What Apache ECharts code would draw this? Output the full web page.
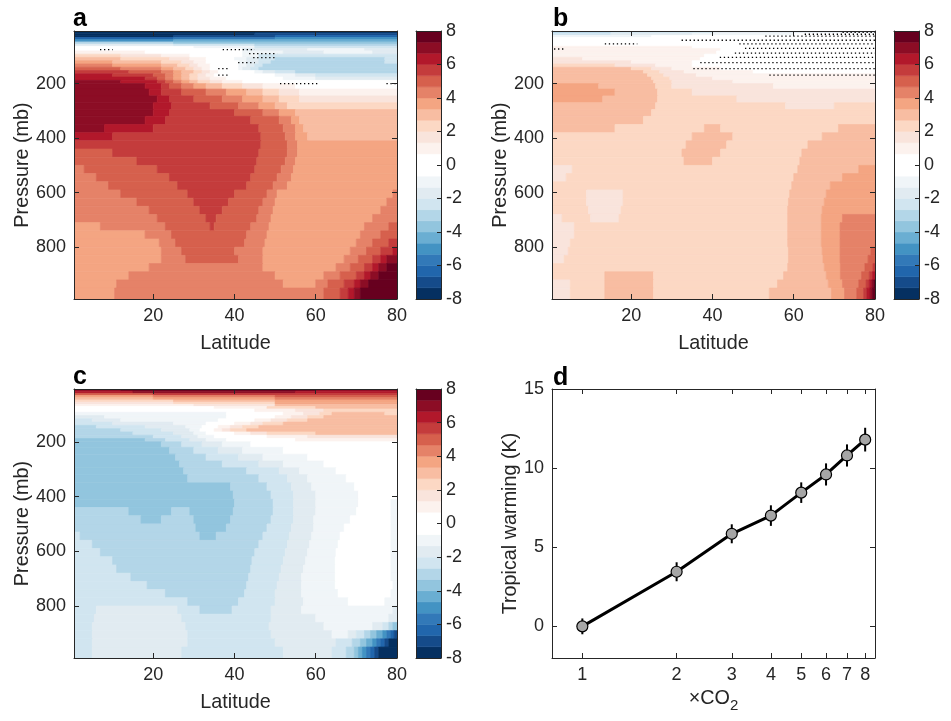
<!DOCTYPE html>
<html>
<head>
<meta charset="utf-8">
<script src="https://cdn.jsdelivr.net/npm/echarts@6/dist/echarts.min.js"></script>
<style>
html, body { margin: 0; padding: 0; background: #fff; }
#chart { width: 951px; height: 721px; }
</style>
</head>
<body>
<div id="chart"></div>
<script>
var FONT = '"Liberation Sans", Arial, Helvetica, sans-serif';
var INK = '#262626';

// pressure rows (mb) shared by panels a, b, c
var pEdges = [7, 15, 23, 31, 39, 47, 55, 63, 71, 80, 92, 104, 116, 128, 140, 152, 164, 176, 188, 200,
  220, 245, 270, 295, 320, 350, 380, 410, 440, 470, 500, 530, 560, 590, 620, 650, 680, 710, 740, 770,
  800, 830, 860, 890, 920, 950, 990];

// one line per pressure row: value, latitude where that value stops, value, latitude, ...
var fieldA = [
  [-7.7, 80],
  [-7.7, 45, -7, 80],
  [-7.7, 25, -7, 50, -6.3, 80],
  [-6.3, 25, -5.7, 50, -5, 80],
  [-5, 25, -4.3, 80],
  [-3, 25, -3.7, 80],
  [-1.7, 25, -2.3, 45, -3, 80],
  [-0.3, 30, -1, 45, -2.3, 80],
  [0.3, 32, -0.3, 42, -1.7, 58, -1, 72, -1.7, 80],
  [1, 18, 0.3, 34, -0.3, 42, -1, 52, -1.7, 62, -1, 74, -1.7, 80],
  [2.3, 12, 1.7, 22, 1, 29, 0.3, 37, -0.3, 42, -1, 46, -2.3, 80],
  [3, 12, 2.3, 24, 1.7, 29, 1, 33, 0.3, 37, -0.3, 40, -1, 43, -1.7, 46, -2.3, 50, -3, 77, -2.3, 80],
  [3.7, 10, 3, 22, 2.3, 27, 1.7, 30, 1, 33, 0.3, 38, -0.3, 41, -1, 43, -1.7, 46, -2.3, 49, -3, 77, -2.3, 80],
  [4.3, 10, 3.7, 22, 3, 26, 2.3, 29, 1.7, 31, 1, 34, 0.3, 38, -0.3, 41, -1, 43, -1.7, 45, -2.3, 47, -3, 80],
  [5, 12, 4.3, 22, 3.7, 25, 3, 28, 2.3, 30, 1.7, 32, 1, 34, 0.3, 38, -0.3, 41, -1, 42, -1.7, 44, -2.3, 46, -3, 80],
  [5.7, 14, 5, 22, 4.3, 25, 3.7, 27, 3, 30, 2.3, 32, 1.7, 34, 1, 36, 0.3, 42, -0.3, 45, -1, 47, -1.7, 50, -2.3, 55, -3, 80],
  [6.3, 10, 5.7, 20, 5, 23, 4.3, 25, 3.7, 27, 3, 29, 2.3, 31, 1.7, 33, 1, 35, 0.3, 45, -0.3, 50, -1, 55, -1.7, 60, -2.3, 80],
  [6.3, 18, 5.7, 21, 5, 23, 4.3, 25, 3.7, 27, 3, 29, 2.3, 31, 1.7, 34, 1, 38, 0.3, 45, -0.3, 52, -1, 60, -1.7, 80],
  [7, 12, 6.3, 21, 5.7, 23, 5, 25, 4.3, 27, 3.7, 29, 3, 31, 2.3, 34, 1.7, 37, 1, 42, 0.3, 55, -0.3, 80],
  [7, 18, 6.3, 22, 5.7, 24, 5, 27, 4.3, 30, 3.7, 33, 3, 37, 2.3, 42, 1.7, 47, 1, 55, 0.3, 80],
  [7, 19, 6.3, 22, 5.7, 27, 5, 33, 4.3, 38, 3.7, 43, 3, 47, 2.3, 51, 1.7, 56, 1, 80],
  [7, 21, 6.3, 24, 5.7, 30, 5, 37, 4.3, 42, 3.7, 47, 3, 51, 2.3, 56, 1.7, 80],
  [7, 20, 6.3, 24.5, 5.7, 34, 5, 41, 4.3, 46, 3.7, 50, 3, 53, 2.3, 80],
  [7, 20, 6.3, 24, 5.7, 40, 5, 47, 4.3, 51, 3.7, 55, 3, 80],
  [7, 18, 6.3, 23, 5.7, 44, 5, 51, 4.3, 54, 3.7, 56, 3, 80],
  [7, 8, 6.3, 20, 5.7, 46, 5, 52, 4.3, 55, 3.7, 57, 3, 80],
  [6.3, 10, 5.7, 46.5, 5, 52.5, 4.3, 55, 3.7, 58, 3, 80],
  [5.7, 46.5, 5, 53, 4.3, 55.5, 3.7, 80],
  [5, 10, 5.7, 46, 5, 53, 4.3, 55.5, 3.7, 80],
  [5, 16, 5.7, 45.5, 5, 52.5, 4.3, 55, 3.7, 80],
  [4.3, 3, 5, 21, 5.7, 45, 5, 51.5, 4.3, 54.5, 3.7, 80],
  [4.3, 6, 5, 24, 5.7, 44, 5, 50.5, 4.3, 54, 3.7, 80],
  [4.3, 9, 5, 26, 5.7, 43, 5, 49.5, 4.3, 53, 3.7, 80],
  [4.3, 12, 5, 28.5, 5.7, 40, 5, 48, 4.3, 50.5, 3.7, 79, 4.3, 80],
  [4.3, 16, 5, 30, 5.7, 38.5, 5, 47, 4.3, 50, 3.7, 77.5, 4.3, 80],
  [4.3, 19, 5, 31.5, 5.7, 37, 5, 46, 4.3, 49.5, 3.7, 76, 4.3, 80],
  [4.3, 21, 5, 33, 5.7, 35.5, 5, 45.5, 4.3, 49, 3.7, 74, 4.3, 80],
  [3.7, 7, 4.3, 23, 5, 34, 5.7, 35, 5, 44, 4.3, 48.5, 3.7, 72, 4.3, 78, 5, 80],
  [3.7, 18, 4.3, 24.5, 5, 43, 4.3, 48, 3.7, 71, 4.3, 76, 5, 80],
  [3.7, 21.5, 4.3, 25.5, 5, 42.5, 4.3, 47.5, 3.7, 70, 4.3, 74, 5, 78, 5.7, 80],
  [3.7, 22, 4.3, 27, 5, 40, 4.3, 47, 3.7, 68.5, 4.3, 72.5, 5, 76, 5.7, 79, 6.3, 80],
  [3.7, 22, 4.3, 28, 5, 41, 4.3, 47, 3.7, 67, 4.3, 70.5, 5, 74, 5.7, 76, 6.3, 77.5, 7, 80],
  [3.7, 19, 4.3, 47, 3.7, 65, 4.3, 68.5, 5, 72, 5.7, 74, 6.3, 75.5, 7, 77.5, 7.7, 80],
  [3.7, 14, 4.3, 50, 3.7, 62, 4.3, 66, 5, 70, 5.7, 72, 6.3, 73.5, 7, 75.5, 7.7, 80],
  [3.7, 11, 4.3, 52, 3.7, 60, 4.3, 63, 5, 67, 5.7, 69.5, 6.3, 71, 7, 73, 7.7, 80],
  [3.7, 10.5, 4.3, 62, 5, 66, 5.7, 68, 6.3, 69.5, 7, 71, 7.7, 80]
];

var fieldB = [
  [-3, 15, -2.3, 40, -1.7, 80],
  [-2.3, 15, -1.7, 35, -1, 60, 0, 80],
  [-1, 25, 0, 80],
  [0, 80],
  [0, 80],
  [0, 80],
  [0, 80],
  [1, 35, 0, 80],
  [1, 42, 0, 80],
  [1, 41, 0, 80],
  [1, 38, 0, 80],
  [1.7, 8, 1, 37, 0, 80],
  [1.7, 20, 1, 35, 0, 80],
  [2.3, 16, 1.7, 26, 1, 35, 0, 80],
  [3, 20, 2.3, 25, 1.7, 30, 1, 42, 0, 80],
  [3, 23, 2.3, 27, 1.7, 33, 1, 50, 0, 80],
  [3, 24, 2.3, 28, 1.7, 36, 1, 80],
  [3, 25, 2.3, 29.5, 1.7, 40, 1, 80],
  [3, 25.5, 2.3, 30, 1.7, 45, 1, 80],
  [3.7, 12, 3, 26, 2.3, 30, 1.7, 55, 1, 80],
  [3.7, 16, 3, 26.5, 2.3, 35, 1.7, 80],
  [3.7, 13, 3, 26.5, 2.3, 46, 1.7, 80],
  [3, 26, 2.3, 58, 1.7, 70, 2.3, 80],
  [3, 25, 2.3, 80],
  [3, 23, 2.3, 80],
  [3, 16, 2.3, 38, 3, 42, 2.3, 71, 3, 80],
  [2.3, 35, 3, 45, 2.3, 67, 3, 80],
  [2.3, 33.5, 3, 43.5, 2.3, 63.5, 3, 80],
  [2.3, 32.5, 3, 42, 2.3, 62, 3, 80],
  [2.3, 33, 3, 40, 2.3, 61.5, 3, 80],
  [1.7, 5.5, 2.3, 61, 3, 76, 3.7, 80],
  [1.7, 4, 2.3, 60, 3, 72, 3.7, 80],
  [2.3, 59.5, 3, 69, 3.7, 80],
  [2.3, 9, 1.7, 18, 2.3, 59, 3, 68, 3.7, 80],
  [2.3, 9, 1.7, 18, 2.3, 58.7, 3, 67.5, 3.7, 80],
  [2.3, 9.5, 1.7, 17.5, 2.3, 58.5, 3, 67, 3.7, 80],
  [1.7, 3, 2.3, 10, 1.7, 17, 2.3, 58.5, 3, 66.8, 3.7, 72, 4.3, 80],
  [1.7, 6, 2.3, 58.5, 3, 66.8, 3.7, 71.4, 4.3, 80],
  [1.7, 6, 2.3, 58.5, 3, 66.8, 3.7, 71.4, 4.3, 80],
  [1.7, 5, 2.3, 58.5, 3, 66.8, 3.7, 71.4, 4.3, 80],
  [1.7, 4.5, 2.3, 58.7, 3, 67, 3.7, 71.4, 4.3, 79, 5, 80],
  [1.7, 3.5, 2.3, 58.7, 3, 67.2, 3.7, 71.4, 4.3, 78.3, 5, 80],
  [2.3, 58.5, 3, 67.5, 3.7, 71.5, 4.3, 77.5, 5, 79.5, 5.7, 80],
  [2.3, 13.5, 3, 25.5, 2.3, 57.5, 3, 68, 3.7, 71.5, 4.3, 76.7, 5, 78.6, 5.7, 79.4, 6.3, 80],
  [1.7, 5, 2.3, 13.5, 3, 25.5, 2.3, 56, 3, 68.5, 3.7, 72, 4.3, 76, 5, 77.8, 5.7, 78.6, 6.3, 79.2, 7, 79.7, 7.7, 80],
  [1.7, 5, 2.3, 13.5, 3, 25.5, 2.3, 54, 3, 69.3, 3.7, 72.5, 4.3, 75.5, 5, 77.2, 5.7, 78, 6.3, 78.8, 7, 79.4, 7.7, 80]
];

var fieldC = [
  [7, 12, 7.7, 60, 7, 80],
  [6.3, 15, 7, 55, 6.3, 80],
  [5, 20, 5.7, 80],
  [3.7, 20, 4.3, 50, 5, 80],
  [3, 20, 3.7, 50, 4.3, 80],
  [2.3, 25, 3, 50, 3.7, 80],
  [1.7, 25, 2.3, 50, 3.7, 80],
  [1, 30, 1.7, 50, 3, 80],
  [0.3, 35, 1, 48, 2.3, 60, 3, 80],
  [0.3, 45, 1, 55, 1.7, 62, 2.3, 80],
  [-1, 38, 0.3, 52, 1, 57, 1.7, 61, 2.3, 64, 3, 77, 2.3, 80],
  [-1.7, 8, -1, 38, 0.3, 50, 1, 54, 1.7, 58, 2.3, 62, 3, 80],
  [-2.3, 5, -1.7, 12, -1, 36, 0.3, 45, 1, 49, 1.7, 53, 2.3, 58, 3, 80],
  [-2.3, 10, -1.7, 25, -1, 33, 0.3, 40, 1, 44, 1.7, 47, 2.3, 52, 3, 80],
  [-3, 6, -2.3, 18, -1.7, 28, -1, 32, 0.3, 36, 1, 39, 1.7, 42, 2.3, 46, 3, 80],
  [-3, 12, -2.3, 22, -1.7, 29, -1, 31.5, 0.3, 35, 1, 37, 1.7, 39, 2.3, 43, 3, 80],
  [-3, 15, -2.3, 25, -1.7, 30, -1, 33, 0.3, 40, 1, 44, 1.7, 48, 2.3, 60, 3, 80],
  [-3, 20, -2.3, 27, -1.7, 31, -1, 35, 0.3, 48, 1, 58, 1.7, 80],
  [-3.7, 18, -3, 23, -2.3, 29, -1.7, 33, -1, 38, 0.3, 55, 1, 80],
  [-3.7, 22, -3, 27, -2.3, 32, -1.7, 37, -1, 44, 0.3, 80],
  [-3.7, 24, -3, 30, -2.3, 36, -1.7, 42, -1, 52, 0.3, 80],
  [-3.7, 25.5, -3, 33, -2.3, 41, -1.7, 47, -1, 58, 0.3, 80],
  [-3.7, 26.5, -3, 37, -2.3, 46, -1.7, 52, -1, 62, 0.3, 80],
  [-3.7, 27.5, -3, 43, -2.3, 51, -1.7, 56, -1, 65, 0.3, 80],
  [-3.7, 28.5, -3, 46, -2.3, 53, -1.7, 58, -1, 67.5, 0.3, 80],
  [-3.7, 39, -3, 48, -2.3, 54, -1.7, 59, -1, 69.5, 0.3, 80],
  [-3.7, 39.7, -3, 49, -2.3, 54.5, -1.7, 60, -1, 70.5, 0.3, 80],
  [-3.7, 40, -3, 49.5, -2.3, 54.5, -1.7, 60, -1, 70.5, 0.3, 78.5, -1, 80],
  [-3, 14, -3.7, 24.5, -3, 29, -3.7, 39.7, -3, 49.5, -2.3, 54.5, -1.7, 60, -1, 70, 0.3, 78.5, -1, 80],
  [-3, 17, -3.7, 22, -3, 30, -3.7, 39, -3, 49, -2.3, 54.5, -1.7, 59.5, -1, 68.5, 0.3, 78.5, -1, 80],
  [-3, 30.5, -3.7, 38, -3, 48, -2.3, 54, -1.7, 59.5, -1, 67, 0.3, 78.5, -1, 80],
  [-2.3, 2, -3, 31.5, -3.7, 35.5, -3, 47, -2.3, 53.5, -1.7, 59, -1, 66, 0.3, 78.5, -1, 80],
  [-2.3, 5, -3, 46, -2.3, 53, -1.7, 58.5, -1, 65.5, 0.3, 78.5, -1, 80],
  [-2.3, 7, -3, 45, -2.3, 52.5, -1.7, 58, -1, 65, 0.3, 78.5, -1, 80],
  [-2.3, 10, -3, 44.3, -2.3, 52, -1.7, 57.5, -1, 64.8, 0.3, 78.5, -1, 80],
  [-2.3, 11, -3, 44, -2.3, 51.5, -1.7, 57, -1, 64.8, 0.3, 78.5, -1, 80],
  [-2.3, 14.5, -3, 43.5, -2.3, 51, -1.7, 56.5, -1, 64.8, 0.3, 78.5, -1, 80],
  [-2.3, 18.5, -3, 43, -2.3, 50.5, -1.7, 56.5, -1, 64.8, 0.3, 79, -1, 80],
  [-2.3, 23, -3, 42.5, -2.3, 50, -1.7, 56.5, -1, 65.5, 0.3, 78.5, -1, 80],
  [-2.3, 28.5, -3, 41, -2.3, 50, -1.7, 57, -1, 68, 0.3, 77, -1, 80],
  [-2.3, 6, -1.7, 26, -2.3, 31.5, -3, 39.4, -2.3, 49, -1.7, 56.5, -1, 79, -1.7, 80],
  [-2.3, 5.5, -1.7, 27, -2.3, 49, -1.7, 60, -1, 78, -1.7, 80],
  [-2.3, 5, -1.7, 28, -2.3, 48.5, -1.7, 62, -1, 74, -1.7, 76.5, -2.3, 78, -3, 79, -3.7, 80],
  [-2.3, 5, -1.7, 28.5, -2.3, 49, -1.7, 64, -1, 68, -1.7, 70, -2.3, 72, -3, 73.5, -3.7, 75, -4.3, 76.5, -5, 77.5, -5.7, 78.5, -6.3, 79.3, -7, 80],
  [-2.3, 5, -1.7, 28.5, -2.3, 50, -1.7, 65, -2.3, 69, -3, 71, -3.7, 72.5, -4.3, 74, -5, 75, -5.7, 76, -6.3, 77, -7, 78, -7.7, 80],
  [-2.3, 5, -1.7, 27, -2.3, 52, -1.7, 64, -2.3, 67.5, -3, 69.5, -3.7, 70.5, -4.3, 71.5, -5, 72.5, -5.7, 73.5, -6.3, 74.5, -7, 75.5, -7.7, 80]
];

// dotted (significance) rows: start latitude, end latitude, pressure
var stippleA = [
  [6.9, 10, 75], [37.1, 45, 75], [43.6, 50.5, 90], [44.6, 50.5, 104.5], [40.9, 45, 123],
  [36, 38.5, 145], [36, 38.5, 169], [51.2, 61, 200], [77.4, 80, 200]
];
var stippleB = [
  [72, 80, 12], [62.7, 80, 19], [53, 80, 26], [32.4, 80, 41], [13.5, 21.5, 54], [46.6, 80, 54],
  [1, 3.7, 73], [48, 80, 71], [45.5, 80, 88], [41.8, 80, 104], [37, 80, 123], [35.3, 80, 145], [54, 80, 169]
];

// 24 colour levels from -8 to 8
var levelColors = ['#053061', '#154b8a', '#2166ac', '#3279b8', '#4393c3', '#6aaed2', '#92c5de', '#b3d6e8',
  '#d1e5f0', '#e1ebf1', '#f0f5f8', '#ffffff', '#ffffff', '#fcf2ee', '#f9e4dc', '#fcd8c4',
  '#f8bda2', '#f4a582', '#e58268', '#d6604d', '#c43c3c', '#b2182b', '#8c0d25', '#67001f'];
var cbRange = [-8, 8];
var cbTicks = [-8, -6, -4, -2, 0, 2, 4, 6, 8];

var latRange = [0.5, 80];
var latTicks = [20, 40, 60, 80];
var pRange = [7, 990];
var pTicks = [200, 400, 600, 800];

// panel d
var co2 = [1, 2, 3, 4, 5, 6, 7, 8];
var warming = [0, 3.45, 5.85, 7.0, 8.45, 9.6, 10.8, 11.8];
var warmingErr = [0.5, 0.6, 0.6, 0.65, 0.65, 0.7, 0.7, 0.75];
var co2Ticks = [1, 2, 3, 4, 5, 6, 7, 8];
var warmTicks = [0, 5, 10, 15];

var chart = echarts.init(document.getElementById('chart'));

function toCells(field) {
  var cells = [];
  field.forEach(function (row, r) {
    var lat0 = latRange[0];
    for (var k = 0; k < row.length; k += 2) {
      cells.push([lat0, row[k + 1], pEdges[r], pEdges[r + 1], row[k]]);
      lat0 = row[k + 1];
    }
  });
  return cells;
}

function levelColor(v) {
  var step = (cbRange[1] - cbRange[0]) / levelColors.length;
  var i = Math.floor((v - cbRange[0]) / step);
  return levelColors[Math.max(0, Math.min(levelColors.length - 1, i))];
}

function renderCell(params, api) {
  var a = api.coord([api.value(0), api.value(2)]);
  var b = api.coord([api.value(1), api.value(3)]);
  var c = levelColor(api.value(4));
  return {
    type: 'rect',
    shape: { x: Math.min(a[0], b[0]), y: Math.min(a[1], b[1]), width: Math.abs(b[0] - a[0]), height: Math.abs(b[1] - a[1]) },
    style: { fill: c, stroke: c, lineWidth: 0.7 }
  };
}

function renderDots(params, api) {
  var a = api.coord([api.value(0), api.value(2)]);
  var b = api.coord([api.value(1), api.value(2)]);
  return {
    type: 'line',
    shape: { x1: a[0], y1: a[1], x2: b[0], y2: b[1] },
    style: { stroke: '#000', lineWidth: 1.3, lineDash: [1.3, 2.7] }
  };
}

function renderBarLevel(params, api) {
  var a = api.coord([0, api.value(0)]);
  var b = api.coord([1, api.value(1)]);
  var c = levelColors[params.dataIndex];
  return {
    type: 'rect',
    shape: { x: a[0], y: Math.min(a[1], b[1]), width: b[0] - a[0], height: Math.abs(b[1] - a[1]) },
    style: { fill: c, stroke: c, lineWidth: 0.5 }
  };
}

function renderErr(params, api) {
  var a = api.coord([api.value(0), api.value(1)]);
  var b = api.coord([api.value(0), api.value(2)]);
  return {
    type: 'line',
    shape: { x1: a[0], y1: a[1], x2: b[0], y2: b[1] },
    style: { stroke: '#000', lineWidth: 2 }
  };
}

var nameStyle = { color: INK, fontSize: 19.8, fontFamily: FONT };

function axis(gridIndex, position, range, ticks, labels, extra) {
  var a = {
    type: 'value', gridIndex: gridIndex, position: position,
    min: range[0], max: range[1], z: 10,
    axisLine: { show: true, onZero: false, lineStyle: { color: INK, width: 1 } },
    axisTick: { show: !!ticks, inside: true, length: 5, lineStyle: { color: INK, width: 1 } },
    axisLabel: { show: !!(ticks && labels), color: INK, fontSize: 18, fontFamily: FONT, margin: 8 },
    splitLine: { show: false }
  };
  if (ticks) {
    a.axisTick.customValues = ticks;
    a.axisLabel.customValues = ticks;
  }
  for (var k in extra) a[k] = extra[k];
  return a;
}

var grids = [
  { left: 74, top: 31, width: 323, height: 268 },
  { left: 416, top: 31, width: 25, height: 268 },
  { left: 552, top: 31, width: 323, height: 268 },
  { left: 894, top: 31, width: 25, height: 268 },
  { left: 74, top: 389, width: 323, height: 269 },
  { left: 416, top: 389, width: 25, height: 269 },
  { left: 552, top: 389, width: 323, height: 269 }
];

var xAxes = [], yAxes = [], series = [];
var fields = [fieldA, fieldB, fieldC];
var stipples = [stippleA, stippleB, []];
var cbData = levelColors.map(function (c, i) {
  var step = (cbRange[1] - cbRange[0]) / levelColors.length;
  return [cbRange[0] + i * step, cbRange[0] + (i + 1) * step];
});

fields.forEach(function (field, k) {
  var g = 2 * k;
  xAxes.push(axis(g, 'bottom', latRange, latTicks, true,
    { name: 'Latitude', nameLocation: 'middle', nameGap: 35, nameTextStyle: nameStyle }));
  xAxes.push(axis(g, 'top', latRange, latTicks, false));
  xAxes.push(axis(g + 1, 'bottom', [0, 1], null, false));
  xAxes.push(axis(g + 1, 'top', [0, 1], null, false));
  yAxes.push(axis(g, 'left', pRange, pTicks, true,
    { inverse: true, name: 'Pressure (mb)', nameLocation: 'middle', nameGap: 40, nameTextStyle: nameStyle }));
  yAxes.push(axis(g, 'right', pRange, pTicks, false, { inverse: true }));
  yAxes.push(axis(g + 1, 'left', cbRange, null, false));
  var cb = axis(g + 1, 'right', cbRange, cbTicks, true);
  cb.axisTick.length = 4;
  cb.axisLabel.margin = 5;
  yAxes.push(cb);

  series.push({
    type: 'custom', xAxisIndex: 4 * k, yAxisIndex: 4 * k, clip: true, silent: true,
    renderItem: renderCell, encode: { x: [0, 1], y: [2, 3] }, data: toCells(field), z: 1
  });
  series.push({
    type: 'custom', xAxisIndex: 4 * k, yAxisIndex: 4 * k, clip: true, silent: true,
    renderItem: renderDots, encode: { x: [0, 1], y: 2 }, data: stipples[k], z: 2
  });
  series.push({
    type: 'custom', xAxisIndex: 4 * k + 2, yAxisIndex: 4 * k + 3, clip: true, silent: true,
    renderItem: renderBarLevel, encode: { y: [0, 1] }, data: cbData, z: 1
  });
});

// panel d axes
xAxes.push(axis(6, 'bottom', [0.8, 8.6], co2Ticks, true, {
  type: 'log', logBase: 10, name: '×CO{s|2}', nameLocation: 'middle', nameGap: 26,
  nameTextStyle: { color: INK, fontSize: 19.8, fontFamily: FONT,
    rich: { s: { fontSize: 15, fontFamily: FONT, color: INK, padding: [14, 0, 0, 0] } } }
}));
xAxes.push(axis(6, 'top', [0.8, 8.6], co2Ticks, false, { type: 'log', logBase: 10 }));
yAxes.push(axis(6, 'left', [-2, 15], warmTicks, true,
  { name: 'Tropical warming (K)', nameLocation: 'middle', nameGap: 30, nameTextStyle: nameStyle }));
yAxes.push(axis(6, 'right', [-2, 15], warmTicks, false));

series.push({
  type: 'custom', xAxisIndex: 12, yAxisIndex: 12, silent: true, z: 2,
  renderItem: renderErr, encode: { x: 0, y: [1, 2] },
  data: co2.map(function (x, i) { return [x, warming[i] - warmingErr[i], warming[i] + warmingErr[i]]; })
});
series.push({
  type: 'line', xAxisIndex: 12, yAxisIndex: 12, z: 3, silent: true,
  data: co2.map(function (x, i) { return [x, warming[i]]; }),
  lineStyle: { color: '#000', width: 3 },
  symbol: 'circle', symbolSize: 11,
  itemStyle: { color: '#a6a6a6', borderColor: '#000', borderWidth: 1.2 }
});

var letters = [['a', 73, 7], ['b', 553, 7], ['c', 73, 365], ['d', 553, 366]];

chart.setOption({
  backgroundColor: '#fff',
  animation: false,
  grid: grids,
  xAxis: xAxes,
  yAxis: yAxes,
  series: series,
  graphic: letters.map(function (l) {
    return { type: 'text', left: l[1], top: l[2], z: 20,
      style: { text: l[0], font: 'bold 25px ' + FONT, fill: '#000' } };
  })
});
window.addEventListener('resize', function () { chart.resize(); });
</script>
</body>
</html>
